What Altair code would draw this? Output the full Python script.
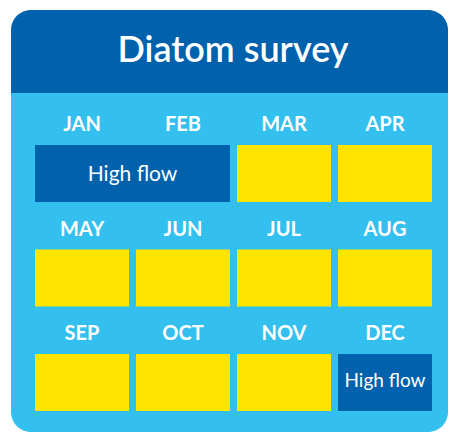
import altair as alt
import pandas as pd

title_text = "Diatom survey"
months = ["JAN", "FEB", "MAR", "APR", "MAY", "JUN", "JUL", "AUG", "SEP", "OCT", "NOV", "DEC"]
flow = ["High flow", "High flow", "", "", "", "", "", "", "", "", "", "High flow"]
n_cols = 4

# month labels
lab = pd.DataFrame({
    "month": months,
    "col": [i % n_cols for i in range(len(months))],
    "row": [i // n_cols for i in range(len(months))],
})

# merge consecutive high-flow months in the same row into one block
blocks = []
i = 0
while i < len(months):
    r, c = i // n_cols, i % n_cols
    span = 1
    if flow[i]:
        while (i + span) < len(months) and (i + span) // n_cols == r and flow[i + span] == flow[i]:
            span += 1
    blocks.append({"row": r, "col": c, "span": span, "label": flow[i],
                   "kind": "high" if flow[i] else "normal", "small": span == 1})
    i += span
blk = pd.DataFrame(blocks)

W, H = 440, 424
gap = 0.0693
xs = alt.Scale(domain=[-0.26733, (W - 27) / 101], nice=False, zero=False)
ys = alt.Scale(domain=[-1.311, (H - 137) / 104.5], nice=False, zero=False, reverse=True)

one = pd.DataFrame({"a": [0]})
FONT = "Lato"

body = alt.Chart(one).mark_rect(color="#33C0EE", cornerRadiusBottomLeft=20,
                                cornerRadiusBottomRight=20).encode(
    x=alt.value(3), x2=alt.value(440), y=alt.value(84), y2=alt.value(424))
header = alt.Chart(one).mark_rect(color="#0061AD", cornerRadiusTopLeft=20,
                                  cornerRadiusTopRight=20).encode(
    x=alt.value(3), x2=alt.value(440), y=alt.value(2), y2=alt.value(85))
title = alt.Chart(pd.DataFrame({"t": [title_text]})).mark_text(
    font=FONT, fontSize=36, fontWeight=600, color="white", baseline="alphabetic", align="center"
).encode(x=alt.value(225), y=alt.value(54), text="t:N")

base_b = alt.Chart(blk).transform_calculate(
    x0="datum.col", x1=f"datum.col + datum.span - {gap}",
    y0="datum.row", y1="datum.row + 0.545",
    xm=f"datum.col + (datum.span - {gap})/2",
    ym="datum.row + (datum.small ? 0.319 : 0.3416)")

cells = base_b.mark_rect().encode(
    x=alt.X("x0:Q", scale=xs, axis=None), x2="x1:Q",
    y=alt.Y("y0:Q", scale=ys, axis=None), y2="y1:Q",
    color=alt.Color("kind:N", scale=alt.Scale(domain=["high", "normal"], range=["#0061AD", "#FFE600"]), legend=None))

cell_txt_big = base_b.transform_filter("datum.label != '' && !datum.small").mark_text(
    font=FONT, fontSize=21, color="white", baseline="alphabetic", align="center").encode(
    x=alt.X("xm:Q", scale=xs), y=alt.Y("ym:Q", scale=ys), text="label:N")
cell_txt_small = base_b.transform_filter("datum.label != '' && datum.small").mark_text(
    font=FONT, fontSize=19, color="white", baseline="alphabetic", align="center").encode(
    x=alt.X("xm:Q", scale=xs), y=alt.Y("ym:Q", scale=ys), text="label:N")

labels = alt.Chart(lab).transform_calculate(
    xm=f"datum.col + (1 - {gap})/2", ym="datum.row - 0.13").mark_text(
    font=FONT, fontSize=20, fontWeight="bold", color="white", baseline="alphabetic", align="center").encode(
    x=alt.X("xm:Q", scale=xs), y=alt.Y("ym:Q", scale=ys), text="month:N")

chart = alt.layer(body, header, title, cells, cell_txt_big, cell_txt_small, labels).properties(
    width=W, height=H, autosize=alt.AutoSizeParams(type="none"), padding=0, background="white"
).configure_view(stroke=None)

chart.save("out.html", embed_options={"renderer": "svg", "actions": False})
